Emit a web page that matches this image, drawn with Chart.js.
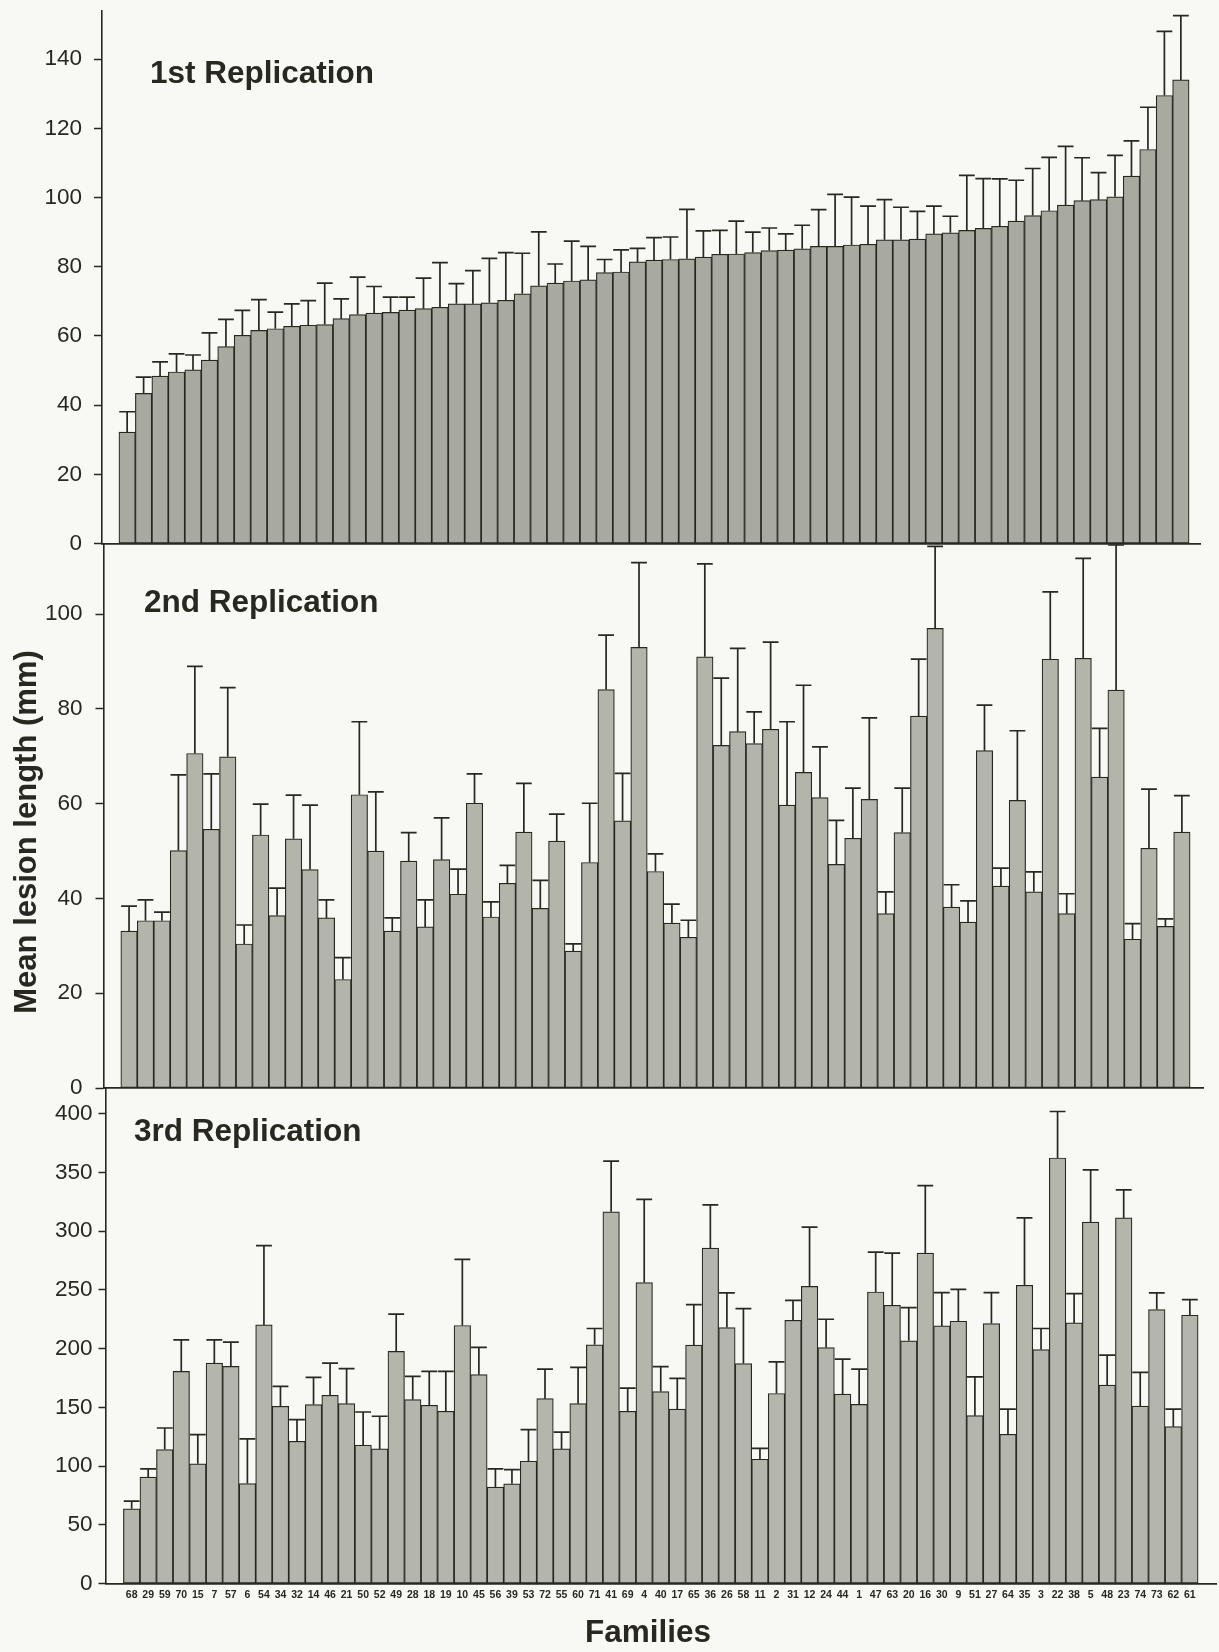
<!DOCTYPE html>
<html>
<head>
<meta charset="utf-8">
<title>Mean lesion length by family, three replications</title>
<script src="https://cdn.jsdelivr.net/npm/chart.js@4.4.1/dist/chart.umd.min.js"></script>
<style>
  html, body { margin: 0; padding: 0; background: #f8f8f5; }
  #wrap { position: relative; width: 1219px; height: 1652px; }
  #wrap canvas { position: absolute; left: 0; top: 0; width: 1219px; height: 1652px; }
</style>
</head>
<body>
<div id="wrap">
  <canvas id="rep1" width="1219" height="1652"></canvas>
  <canvas id="rep2" width="1219" height="1652"></canvas>
  <canvas id="rep3" width="1219" height="1652"></canvas>
</div>
<script>
const families = [
  "68", "29", "59", "70", "15", "7", "57", "6", "54", "34", "32", "14", "46",
  "21", "50", "52", "49", "28", "18", "19", "10", "45", "56", "39", "53", "72",
  "55", "60", "71", "41", "69", "4", "40", "17", "65", "36", "26", "58", "11",
  "2", "31", "12", "24", "44", "1", "47", "63", "20", "16", "30", "9", "51",
  "27", "64", "35", "3", "22", "38", "5", "48", "23", "74", "73", "62", "61"
]

// 1st replication: mean and upper error (mm)
const rep1Mean = [
  32.2, 43.4, 48.4, 49.6, 50.2, 53.0, 56.9, 60.2, 61.6, 62.1, 62.8, 63.1, 63.3,
  65.0, 66.2, 66.6, 66.8, 67.5, 67.9, 68.3, 69.3, 69.3, 69.6, 70.3, 72.2, 74.5,
  75.3, 75.9, 76.2, 78.3, 78.5, 81.4, 81.9, 82.1, 82.3, 82.8, 83.6, 83.7, 84.1,
  84.7, 84.8, 85.2, 85.9, 85.9, 86.3, 86.5, 87.8, 87.8, 88.0, 89.5, 89.8, 90.5,
  91.1, 91.7, 93.2, 94.8, 96.2, 97.8, 99.1, 99.4, 100.2, 106.2, 113.9, 129.5, 134.0
]
const rep1Err = [
  5.9, 4.7, 4.1, 5.2, 4.3, 7.9, 7.9, 7.2, 8.9, 4.8, 6.5, 7.1, 12.0,
  5.7, 10.8, 7.7, 4.4, 3.7, 8.8, 12.9, 5.8, 9.6, 12.8, 13.8, 11.7, 15.6,
  5.5, 11.5, 9.7, 3.8, 6.4, 3.9, 6.5, 6.5, 14.3, 7.6, 6.9, 9.5, 5.9,
  6.5, 4.7, 6.8, 10.6, 15.0, 13.8, 11.0, 11.6, 9.4, 8.0, 8.0, 4.8, 15.9,
  14.4, 13.7, 11.8, 13.6, 15.4, 17.0, 12.4, 7.8, 12.0, 10.2, 12.2, 18.5, 18.6
]

// 2nd replication
const rep2Mean = [
  33.1, 35.3, 35.3, 50.1, 70.6, 54.6, 69.9, 30.4, 53.4, 36.4, 52.6, 46.1, 35.9,
  22.9, 61.9, 50.0, 33.1, 47.9, 34.0, 48.2, 40.9, 60.1, 36.1, 43.2, 54.0, 37.9,
  52.1, 28.9, 47.6, 84.1, 56.4, 93.0, 45.7, 34.8, 31.8, 91.0, 72.3, 75.2, 72.7,
  75.7, 59.7, 66.6, 61.3, 47.2, 52.7, 60.9, 36.8, 53.9, 78.5, 97.0, 38.2, 35.0,
  71.2, 42.6, 60.7, 41.4, 90.5, 36.8, 90.7, 65.6, 84.0, 31.4, 50.6, 34.1, 54.0
]
const rep2Err = [
  5.3, 4.4, 1.8, 16.0, 18.4, 11.7, 14.6, 4.0, 6.5, 5.8, 9.2, 13.6, 3.8,
  4.6, 15.4, 12.5, 2.8, 6.0, 5.7, 8.8, 5.3, 6.2, 3.2, 3.8, 10.3, 5.9,
  5.7, 1.5, 12.5, 11.5, 10.0, 17.9, 3.7, 4.0, 3.6, 19.6, 14.2, 17.6, 6.7,
  18.4, 17.6, 18.4, 10.7, 9.3, 10.6, 17.2, 4.6, 9.4, 12.0, 17.3, 4.7, 4.5,
  9.6, 3.8, 14.7, 4.2, 14.2, 4.2, 21.1, 10.3, 30.6, 3.3, 12.5, 1.6, 7.7
]

// 3rd replication
const rep3Mean = [
  63.7, 90.6, 114.1, 180.7, 102.0, 187.8, 184.9, 85.2, 220.3, 151.0, 121.2, 152.4, 160.3,
  153.2, 117.8, 114.7, 197.7, 156.6, 151.8, 146.7, 219.8, 177.9, 82.1, 85.0, 104.2, 157.5,
  114.7, 153.2, 203.3, 316.6, 146.7, 256.3, 163.5, 148.6, 203.0, 285.7, 218.0, 187.4, 105.9,
  161.9, 224.2, 253.1, 201.0, 161.4, 152.6, 248.3, 237.0, 206.7, 281.4, 219.4, 223.4, 143.0,
  221.4, 127.1, 254.0, 199.3, 362.4, 222.0, 307.8, 169.0, 311.4, 151.2, 233.3, 133.6, 228.5
]
const rep3Err = [
  6.5, 7.1, 18.4, 26.9, 24.9, 19.8, 20.7, 38.0, 67.4, 16.9, 18.4, 23.2, 27.5,
  29.8, 28.3, 27.8, 31.7, 19.8, 28.9, 34.0, 56.3, 23.2, 15.6, 12.1, 26.9, 25.2,
  14.2, 30.9, 13.9, 43.1, 19.8, 70.8, 21.2, 26.1, 34.5, 36.8, 29.5, 46.7, 9.3,
  26.9, 17.0, 50.4, 24.1, 29.7, 30.0, 34.0, 44.4, 28.3, 57.5, 28.3, 27.2, 33.1,
  26.3, 21.5, 57.4, 17.9, 39.6, 24.9, 44.4, 25.5, 23.8, 28.6, 14.2, 15.0, 13.3
]

const ink = "#282820"
const fontFamily = "'Liberation Sans', Arial, sans-serif"
const canvasW = 1219
const canvasH = 1652

function makePanel(canvasId, p) {
  const unit = (p.barsRight - p.barsLeft) / families.length
  const xMin = -0.5 - (p.barsLeft - p.axisX) / unit
  const xMax = families.length - 0.5 + (p.lineRight - p.barsRight) / unit

  const errorBars = {
    id: "errorBars",
    afterDatasetsDraw(chart) {
      const ctx = chart.ctx
      const yScale = chart.scales.y
      const meta = chart.getDatasetMeta(0)
      ctx.save()
      ctx.strokeStyle = ink
      ctx.lineWidth = 1.7
      meta.data.forEach((bar, i) => {
        const top = yScale.getPixelForValue(p.mean[i] + p.err[i])
        const half = bar.width * 0.48
        ctx.beginPath()
        ctx.moveTo(bar.x, bar.y)
        ctx.lineTo(bar.x, top)
        ctx.moveTo(bar.x - half, top)
        ctx.lineTo(bar.x + half, top)
        ctx.stroke()
      })
      ctx.restore()
    }
  }

  const panelText = {
    id: "panelText",
    afterDraw(chart) {
      const ctx = chart.ctx
      p.texts.forEach(item => {
        ctx.save()
        ctx.font = item.font
        ctx.fillStyle = ink
        ctx.textBaseline = "middle"
        ctx.textAlign = item.align || "left"
        ctx.translate(item.x, item.y)
        if (item.rotate) {
          ctx.rotate(item.rotate)
        }
        ctx.fillText(item.text, 0, 0)
        ctx.restore()
      })
    }
  }

  return new Chart(document.getElementById(canvasId), {
    type: "bar",
    data: {
      datasets: [
        {
          data: p.mean.map((v, i) => ({ x: i, y: v })),
          backgroundColor: p.fill,
          borderColor: ink,
          borderWidth: 1.2,
          borderSkipped: false,
          barPercentage: 1,
          categoryPercentage: 1
        }
      ]
    },
    options: {
      responsive: false,
      animation: false,
      events: [],
      layout: {
        padding: {
          left: 0,
          top: p.top,
          right: canvasW - p.lineRight,
          bottom: canvasH - p.bottom - p.xAxisH
        }
      },
      plugins: {
        legend: { display: false },
        tooltip: { enabled: false },
        title: { display: false }
      },
      scales: {
        x: {
          type: "linear",
          min: xMin,
          max: xMax,
          grid: { display: false, drawTicks: false },
          border: { display: true, color: ink, width: 1.7 },
          afterBuildTicks: axis => {
            axis.ticks = families.map((_, i) => ({ value: i }))
          },
          afterFit: axis => {
            axis.height = p.xAxisH
            axis.paddingLeft = 0
            axis.paddingRight = 0
          },
          ticks: {
            display: p.showFamilies,
            autoSkip: false,
            maxRotation: 0,
            minRotation: 0,
            padding: 5,
            color: ink,
            font: { family: fontFamily, size: 10.5, weight: "bold" },
            callback: (value, index) => families[index]
          }
        },
        y: {
          min: 0,
          max: p.yMax,
          afterFit: axis => {
            axis.width = p.axisX
            axis.paddingTop = 0
            axis.paddingBottom = 0
          },
          grid: {
            display: true,
            drawOnChartArea: false,
            drawTicks: true,
            tickLength: p.tickLength,
            tickWidth: 1.5,
            tickColor: ink
          },
          border: { display: true, color: ink, width: 1.6 },
          ticks: {
            stepSize: p.step,
            includeBounds: false,
            padding: p.labelPad,
            color: ink,
            font: { family: fontFamily, size: 22.5 }
          }
        }
      }
    },
    plugins: [errorBars, panelText]
  })
}

document.addEventListener("DOMContentLoaded", () => {
  const titleFont = `bold 31.5px ${fontFamily}`

  makePanel("rep1", {
    mean: rep1Mean,
    err: rep1Err,
    fill: "#a8a99f",
    axisX: 102,
    barsLeft: 110.6,
    barsRight: 1197.5,
    lineRight: 1200,
    top: 10.7,
    bottom: 543.6,
    yMax: 154,
    step: 20,
    tickLength: 8,
    labelPad: 12,
    xAxisH: 0,
    showFamilies: false,
    texts: [
      { text: "1st Replication", x: 150, y: 74, font: titleFont }
    ]
  })

  makePanel("rep2", {
    mean: rep2Mean,
    err: rep2Err,
    fill: "#b3b4aa",
    axisX: 103.5,
    barsLeft: 112.5,
    barsRight: 1198.5,
    lineRight: 1203,
    top: 543.6,
    bottom: 1088,
    yMax: 114.9,
    step: 20,
    tickLength: 8,
    labelPad: 13,
    xAxisH: 0,
    showFamilies: false,
    texts: [
      { text: "2nd Replication", x: 144, y: 603, font: titleFont }
    ]
  })

  makePanel("rep3", {
    mean: rep3Mean,
    err: rep3Err,
    fill: "#b4b5ab",
    axisX: 105.5,
    barsLeft: 115,
    barsRight: 1206.5,
    lineRight: 1216,
    top: 1088,
    bottom: 1583.6,
    yMax: 422,
    step: 50,
    tickLength: 7,
    labelPad: 6,
    xAxisH: 30,
    showFamilies: true,
    texts: [
      { text: "3rd Replication", x: 134, y: 1132, font: titleFont },
      { text: "Families", x: 648, y: 1633, font: titleFont, align: "center" },
      {
        text: "Mean lesion length (mm)",
        x: 27,
        y: 832,
        font: `bold 31px ${fontFamily}`,
        align: "center",
        rotate: -Math.PI / 2
      }
    ]
  })
})
</script>
</body>
</html>
